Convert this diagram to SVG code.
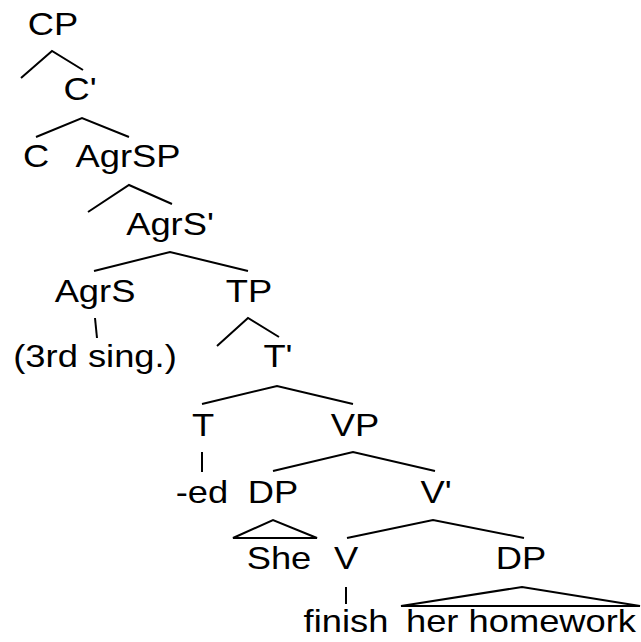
<svg xmlns="http://www.w3.org/2000/svg" width="641" height="642" viewBox="0 0 641 642">
<style>
text{font-family:"Liberation Sans",Arial,sans-serif;font-size:32px;fill:#000;text-anchor:middle}
.e{fill:none;stroke:#000;stroke-width:2;stroke-linejoin:miter}
</style>
<rect width="641" height="642" fill="#fff"/>
<g id="connectors">
<polyline class="e" points="21,78 52,51 83,70"/>
<polyline class="e" points="36,137 82,118 129,137"/>
<polyline class="e" points="88,212 129,185 172,204"/>
<polyline class="e" points="94,271 170,252 248,271"/>
<line class="e" x1="95" y1="318" x2="97" y2="338"/>
<polyline class="e" points="217,346 248,318 279,337"/>
<polyline class="e" points="202,404 277,386 353,404"/>
<line class="e" x1="202" y1="452" x2="202" y2="472"/>
<polyline class="e" points="273,471 353,452 435,471"/>
<polygon class="e" points="233,538 273,520 317,538"/>
<polyline class="e" points="347,538 433,520 524,538"/>
<line class="e" x1="346" y1="587" x2="346" y2="604"/>
<polygon class="e" points="401,606 522,587 640,606"/>
</g>
<g id="CP" transform="translate(53,35) scale(1.135,1)"><text>CP</text></g>
<g id="Cbar" transform="translate(80,100) scale(1.135,1)"><text>C'</text></g>
<g id="C" transform="translate(36,167) scale(1.135,1)"><text>C</text></g>
<g id="AgrSP" transform="translate(128,167) scale(1.135,1)"><text>AgrSP</text></g>
<g id="AgrSbar" transform="translate(170,235) scale(1.135,1)"><text>AgrS'</text></g>
<g id="AgrS" transform="translate(95,302) scale(1.135,1)"><text>AgrS</text></g>
<g id="TP" transform="translate(249,302) scale(1.135,1)"><text>TP</text></g>
<g id="sing" transform="translate(95,367) scale(1.135,1)"><text>(3rd sing.)</text></g>
<g id="Tbar" transform="translate(278,367) scale(1.135,1)"><text>T'</text></g>
<g id="T" transform="translate(203,436) scale(1.135,1)"><text>T</text></g>
<g id="VP" transform="translate(355,436) scale(1.135,1)"><text>VP</text></g>
<g id="ed" transform="translate(202,503) scale(1.135,1)"><text>-ed</text></g>
<g id="DP1" transform="translate(273,503) scale(1.135,1)"><text>DP</text></g>
<g id="Vbar" transform="translate(436,503) scale(1.135,1)"><text>V'</text></g>
<g id="She" transform="translate(279,569) scale(1.135,1)"><text>She</text></g>
<g id="V" transform="translate(346,569) scale(1.135,1)"><text>V</text></g>
<g id="DP2" transform="translate(521,569) scale(1.135,1)"><text>DP</text></g>
<g id="finish" transform="translate(346,632) scale(1.135,1)"><text>finish</text></g>
<g id="homework" transform="translate(521,632) scale(1.135,1)"><text>her homework</text></g>
</svg>
